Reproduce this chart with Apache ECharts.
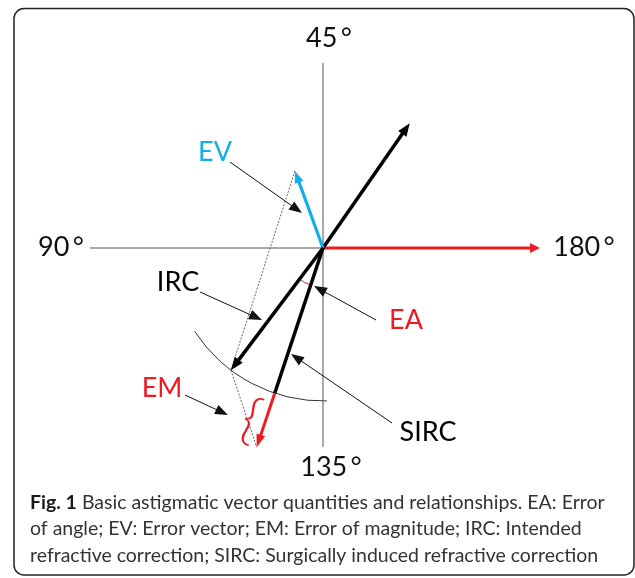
<!DOCTYPE html>
<html><head><meta charset="utf-8">
<script src="https://cdn.jsdelivr.net/npm/echarts@6/dist/echarts.min.js"></script>
<style>html,body{margin:0;padding:0;background:#fff}#c{width:635px;height:578px}</style>
</head><body><div id="c"></div>
<script>
// ---- Data (double-angle astigmatism plot: plot angle = 2 x axis) ----
const directionLabels = ['45\u2009°', '90\u2009°', '135\u2009°', '180\u2009°'];
const directionAxes = [45, 90, 135, 180];
const vectorNames = ['Preop', 'IRC', 'SIRC', 'EV', 'Ref180'];
const vectorAxes = [27.6, 116.5, 125.8, 55.0, 180];        // degrees
const vectorMagnitudes = [1.52, 1.53, 2.10, 0.82, 2.17];   // dioptres
const calloutNames = ['EV', 'IRC', 'EA', 'SIRC', 'EM'];
const captionBold = 'Fig. 1';
const captionLines = [
  ' Basic astigmatic vector quantities and relationships. EA: Error',
  'of angle; EV: Error vector; EM: Error of magnitude; IRC: Intended',
  'refractive correction; SIRC: Surgically induced refractive correction'
];

// ---- Layout / style (not data) ----
const FONT = 'Lato, "Open Sans", sans-serif';
const BLACK = '#000', BLUE = '#14aee6', RED = '#ec1c24', GRAY = '#555';
const dirLabelPos = [[0.06, 2.10], [-2.62, 0.01], [0.08, -2.19], [2.61, 0.01]];
const calloutLabelPos = {EV: [-1.08, 0.96], IRC: [-1.45, -0.34], EA: [0.83, -0.72], SIRC: [1.05, -1.84], EM: [-1.61, -1.40]};
const calloutColor = {EV: BLUE, IRC: BLACK, EA: RED, SIRC: BLACK, EM: RED};
const calloutArrow = {
  EV: [[-0.93, 0.86], [-0.21, 0.35]],
  IRC: [[-1.23, -0.44], [-0.61, -0.72]],
  EA: [[0.53, -0.72], [-0.09, -0.38]],
  SIRC: [[0.69, -1.75], [-0.32, -1.06]],
  EM: [[-1.38, -1.47], [-0.95, -1.67]]
};
const axisLineExtent = {up: 1.85, down: -1.99, left: -2.33};

const rad = d => d * Math.PI / 180;
function tip(i) { const a = rad(2 * vectorAxes[i]); return [vectorMagnitudes[i] * Math.cos(a), vectorMagnitudes[i] * Math.sin(a)]; }
const idx = n => vectorNames.indexOf(n);
const O = [0, 0];
const preopTip = tip(idx('Preop')), ircTip = tip(idx('IRC')), sircTip = tip(idx('SIRC')), evTip = tip(idx('EV')), refTip = tip(idx('Ref180'));
const sircA = rad(2 * vectorAxes[idx('SIRC')]);
const ircMag = vectorMagnitudes[idx('IRC')];
const sircMid = [ircMag * Math.cos(sircA), ircMag * Math.sin(sircA)];

// segments: [x0,y0,x1,y1] + style
const segs = [
  {c: [0, axisLineExtent.down, 0, axisLineExtent.up], st: {color: GRAY, width: 1}},
  {c: [axisLineExtent.left, 0, 0, 0], st: {color: GRAY, width: 1}},
  {c: [...evTip, ...ircTip], st: {color: GRAY, width: 0.9, dash: [2, 1.5]}},
  {c: [...ircTip, ...sircTip], st: {color: GRAY, width: 0.9, dash: [2, 1.5]}},
  {c: [...O, ...refTip], st: {color: RED, width: 3, head: [10, 10]}},
  {c: [...O, ...preopTip], st: {color: BLACK, width: 3.5, head: [13, 10]}},
  {c: [...O, ...evTip], st: {color: BLUE, width: 3.2, head: [12, 9]}},
  {c: [...O, ...ircTip], st: {color: BLACK, width: 3.5, head: [13, 10]}},
  {c: [...O, ...sircMid], st: {color: BLACK, width: 3.5}},
  {c: [...sircMid, ...sircTip], st: {color: RED, width: 3, head: [13, 9]}}
];
calloutNames.forEach(n => segs.push({c: [...calloutArrow[n][0], ...calloutArrow[n][1]], st: {color: '#111', width: 1, head: [13, 10]}}));

function arrowGroup(p0, p1, st) {
  const dx = p1[0] - p0[0], dy = p1[1] - p0[1], L = Math.hypot(dx, dy), ux = dx / L, uy = dy / L;
  const ch = [];
  const hl = st.head ? st.head[0] : 0, hw = st.head ? st.head[1] : 0;
  const b = [p1[0] - ux * hl, p1[1] - uy * hl];
  const e = st.head ? [b[0] + ux * 1, b[1] + uy * 1] : p1;
  ch.push({type: 'line', shape: {x1: p0[0], y1: p0[1], x2: e[0], y2: e[1]},
    style: {stroke: st.color, lineWidth: st.width, lineDash: st.dash || null, fill: null}});
  if (st.head) ch.push({type: 'polygon', shape: {points: [p1, [b[0] - uy * hw / 2, b[1] + ux * hw / 2], [b[0] + uy * hw / 2, b[1] - ux * hw / 2]]},
    style: {fill: st.color, stroke: null}});
  return {type: 'group', children: ch};
}

// arcs: radius, start plot angle, end plot angle (deg)
const arcs = [
  {r: ircMag, a1: 213, a2: 271.5, color: '#333', width: 1},
  {r: 0.39, a1: 2 * vectorAxes[idx('IRC')], a2: 2 * vectorAxes[idx('SIRC')], color: RED, width: 1}
];

// texts
const texts = [];
directionLabels.forEach((t, i) => texts.push({p: dirLabelPos[i], t, color: '#111', size: 27}));
calloutNames.forEach(n => texts.push({p: calloutLabelPos[n], t: n, color: calloutColor[n], size: 27}));

// caption font fitting
const mctx = document.createElement('canvas').getContext('2d');
mctx.font = 'bold 100px ' + FONT; let w1 = mctx.measureText(captionBold).width;
mctx.font = '100px ' + FONT; w1 += mctx.measureText(captionLines[0]).width;
const capSize = Math.min(20, 100 * 575 / w1);

const chart = echarts.init(document.getElementById('c'), null, {renderer: 'canvas'});
chart.setOption({
  animation: false,
  backgroundColor: '#fff',
  grid: {left: 0, right: 0, top: 0, bottom: 0},
  xAxis: {type: 'value', min: -3.23, max: 3.12, show: false},
  yAxis: {type: 'value', min: -3.30, max: 2.48, show: false},
  graphic: [
    {type: 'rect', shape: {x: 14, y: 8.5, width: 620, height: 566.5, r: 10}, style: {fill: null, stroke: '#222', lineWidth: 1.5}, z: 100},
    ...captionLines.map((l, i) => ({
      type: 'text', left: 30, top: 493 + i * 26.5, z: 100,
      style: {
        text: (i === 0 ? '{b|' + captionBold + '}' : '') + '{n|' + l + '}',
        rich: {b: {fontWeight: 'bold', fontSize: capSize, fontFamily: FONT, fill: '#1a1a1a'},
               n: {fontSize: capSize, fontFamily: FONT, fill: '#333'}}
      }
    }))
  ],
  series: [
    {
      type: 'custom', coordinateSystem: 'cartesian2d', silent: true,
      data: arcs.map(a => [0, 0, a.r]),
      encode: {x: 0, y: 1},
      renderItem(params, api) {
        const a = arcs[params.dataIndex];
        const c = api.coord([0, 0]);
        const r = api.size([a.r, 0])[0];
        return {type: 'arc', shape: {cx: c[0], cy: c[1], r, startAngle: -rad(a.a2), endAngle: -rad(a.a1), clockwise: true},
          style: {stroke: a.color, lineWidth: a.width, fill: null}};
      }
    },
    {
      type: 'custom', coordinateSystem: 'cartesian2d', silent: true,
      data: segs.map(s => s.c),
      encode: {x: [0, 2], y: [1, 3]},
      renderItem(params, api) {
        const s = segs[params.dataIndex];
        return arrowGroup(api.coord([api.value(0), api.value(1)]), api.coord([api.value(2), api.value(3)]), s.st);
      }
    },
    {
      type: 'custom', coordinateSystem: 'cartesian2d', silent: true,
      data: texts.map(t => t.p),
      encode: {x: 0, y: 1},
      renderItem(params, api) {
        const t = texts[params.dataIndex];
        const p = api.coord([api.value(0), api.value(1)]);
        return {type: 'text', x: p[0], y: p[1],
          style: {text: t.t, fill: t.color, fontSize: t.size, fontFamily: FONT,
            align: 'center', verticalAlign: 'middle', textAlign: 'center', textVerticalAlign: 'middle'}};
      }
    },
    {
      // EM brace beside the red excess segment of SIRC
      type: 'custom', coordinateSystem: 'cartesian2d', silent: true,
      data: [[-0.72, -1.72]],
      encode: {x: 0, y: 1},
      renderItem(params, api) {
        const p = api.coord([api.value(0), api.value(1)]);
        return {type: 'text', x: p[0], y: p[1], rotation: -0.33,
          style: {text: '{', fill: RED, fontSize: 56, fontFamily: FONT, fontWeight: 300,
            align: 'center', verticalAlign: 'middle', textAlign: 'center', textVerticalAlign: 'middle'}};
      }
    }
  ]
});
</script></body></html>
